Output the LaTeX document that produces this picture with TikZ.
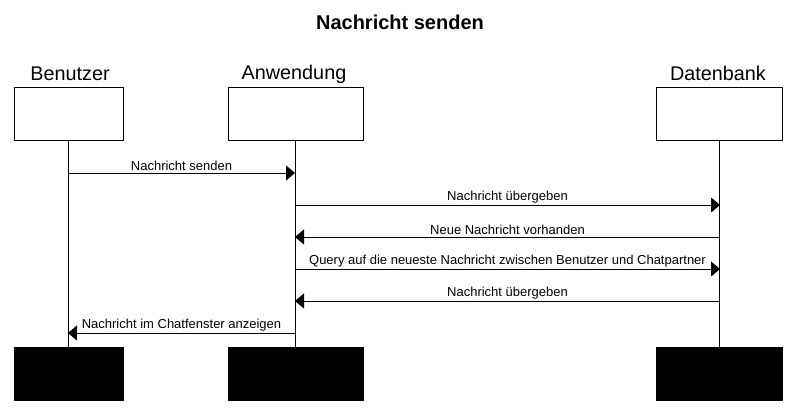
\documentclass[tikz,border=0pt]{standalone}
\usepackage{fontspec}
\setmainfont{Liberation Sans}
\usetikzlibrary{arrows.meta}
\tikzstyle{actor}=[draw,line width=1pt,minimum height=53pt,inner sep=0pt,outer sep=0pt]
\tikzstyle{ende}=[actor,fill=black]
\tikzstyle{rolle}=[font=\fontsize{19.8}{23}\selectfont,inner sep=0pt]
\tikzstyle{msg}=[-{Triangle[length=9pt,width=15pt]},line width=1pt]
\tikzstyle{lbl}=[above,font=\fontsize{13}{15}\selectfont,inner sep=1.5pt]

\begin{document}
\begin{tikzpicture}[x=1pt,y=-1pt]
\useasboundingbox (0,0) rectangle (798,415);
\node[font=\bfseries\fontsize{20}{24}\selectfont] (titel) at (400,22) {Nachricht senden};

\node[actor,minimum width=109pt] (ben)  at (68.5,113.5)  {};
\node[actor,minimum width=135pt] (anw)  at (295.5,113.5) {};
\node[actor,minimum width=126pt] (dat)  at (719.5,113.5) {};
\node[ende,minimum width=109pt]  (ben2) at (68.5,373.5)  {};
\node[ende,minimum width=135pt]  (anw2) at (295.5,373.5) {};
\node[ende,minimum width=126pt]  (dat2) at (719.5,373.5) {};

\node[rolle] (nben) at (70,74)  {Benutzer};
\node[rolle] (nanw) at (294,74) {Anwendung};
\node[rolle] (ndat) at (718,73) {Datenbank};

\draw[line width=1pt] (ben.south) -- (ben2.north);
\draw[line width=1pt] (anw.south) -- (anw2.north);
\draw[line width=1pt] (dat.south) -- (dat2.north);

\coordinate (b1) at (68,173);
\coordinate (a1) at (295,173);
\coordinate (a2) at (295,205);
\coordinate (d2) at (720,205);
\coordinate (d3) at (720,237);
\coordinate (a3) at (295,237);
\coordinate (a4) at (295,269);
\coordinate (d4) at (720,269);
\coordinate (d5) at (720,301);
\coordinate (a5) at (295,301);
\coordinate (a6) at (295,333);
\coordinate (b6) at (68,333);

\draw[msg] (b1) -- node[lbl] {Nachricht senden} (a1);
\draw[msg] (a2) -- node[lbl] {Nachricht übergeben} (d2);
\draw[msg] (d3) -- node[lbl] {Neue Nachricht vorhanden} (a3);
\draw[msg] (a4) -- node[lbl] {Query auf die neueste Nachricht zwischen Benutzer und Chatpartner} (d4);
\draw[msg] (d5) -- node[lbl] {Nachricht übergeben} (a5);
\draw[msg] (a6) -- node[lbl] {Nachricht im Chatfenster anzeigen} (b6);

\end{tikzpicture}
\end{document}
